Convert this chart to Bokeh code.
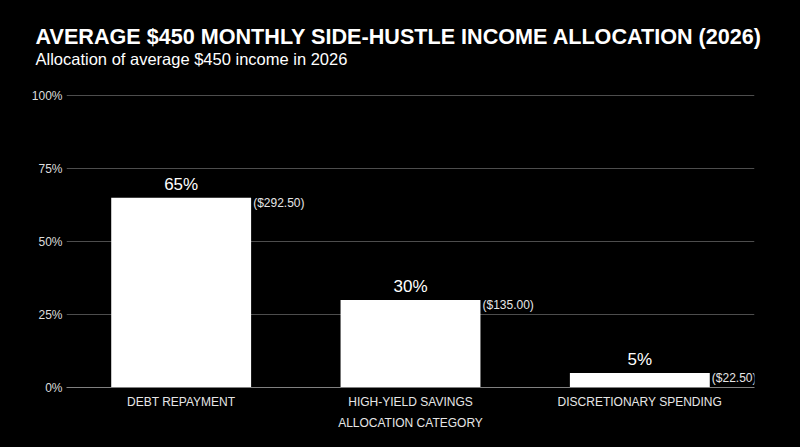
from bokeh.plotting import figure
from bokeh.models import ColumnDataSource, Title, LabelSet, Range1d, FactorRange, FixedTicker, CustomJSTickFormatter
from bokeh.embed import file_html
from bokeh.resources import INLINE
from bokeh.core.properties import value

categories = ["DEBT REPAYMENT", "HIGH-YIELD SAVINGS", "DISCRETIONARY SPENDING"]
percents = [65, 30, 5]
amounts = [292.50, 135.00, 22.50]
pct_labels = ["65%", "30%", "5%"]
amt_labels = ["($292.50)", "($135.00)", "($22.50)"]
y_ticks = [0, 25, 50, 75, 100]

FONT = "Liberation Sans"

src = ColumnDataSource(dict(cat=categories, pct=percents, amt=amounts,
                            pl=pct_labels, al=amt_labels))

p = figure(x_range=FactorRange(*categories, range_padding=0), y_range=Range1d(0, 100.4),
           width=784, height=431, output_backend="svg", toolbar_location=None,
           background_fill_color="black", border_fill_color="black",
           outline_line_color=None,
           min_border_left=58, min_border_right=38, min_border_top=86, min_border_bottom=52)

p.add_layout(Title(text="Allocation of average $450 income in 2026", text_color="white",
                   text_font=FONT, text_font_size="16.5px", text_font_style="normal",
                   offset=-31, standoff=53), "above")
p.add_layout(Title(text="AVERAGE $450 MONTHLY SIDE-HUSTLE INCOME ALLOCATION (2026)", text_color="white",
                   text_font=FONT, text_font_size="21.6px", text_font_style="bold",
                   offset=-31, standoff=-54), "above")

p.vbar(x="cat", top="pct", width=0.61, source=src, fill_color="white", line_color=None)

p.text(x="cat", y="pct", text="pl", source=src, text_color="white", text_font=value(FONT),
       text_font_size="17px", text_align="center", text_baseline="bottom", y_offset=-4)
p.add_layout(LabelSet(x="cat", y="pct", text="al", source=src, text_color="#e6e6e6",
                      text_font=value(FONT), text_font_size="12px", text_align="left",
                      text_baseline="top", x_offset=72, y_offset=2))

p.yaxis.ticker = FixedTicker(ticks=y_ticks)
p.yaxis.formatter = CustomJSTickFormatter(code="return tick + '%'")
p.yaxis.axis_line_color = None
p.yaxis.major_tick_line_color = None
p.yaxis.minor_tick_line_color = None
p.yaxis.major_tick_out = 0
p.yaxis.major_label_text_color = "#dddddd"
p.yaxis.major_label_text_font = FONT
p.yaxis.major_label_text_font_size = "12px"
p.yaxis.major_label_standoff = 4

p.xaxis.axis_line_color = "#808080"
p.xaxis.major_tick_line_color = None
p.xaxis.minor_tick_line_color = None
p.xaxis.major_tick_out = 0
p.xaxis.major_label_text_color = "#e6e6e6"
p.xaxis.major_label_text_font = FONT
p.xaxis.major_label_text_font_size = "12px"
p.xaxis.major_label_standoff = 7
p.xaxis.axis_label = "ALLOCATION CATEGORY"
p.xaxis.axis_label_text_color = "#e6e6e6"
p.xaxis.axis_label_text_font = FONT
p.xaxis.axis_label_text_font_size = "12px"
p.xaxis.axis_label_text_font_style = "normal"
p.xaxis.axis_label_standoff = 4

p.xgrid.grid_line_color = None
p.ygrid.grid_line_color = "#4d4d4d"
p.ygrid.grid_line_width = 1

html = file_html(p, INLINE)
html = html.replace("<body>", "<body style=\"background:black;margin:8px\">")
open("out.html", "w").write(html)
